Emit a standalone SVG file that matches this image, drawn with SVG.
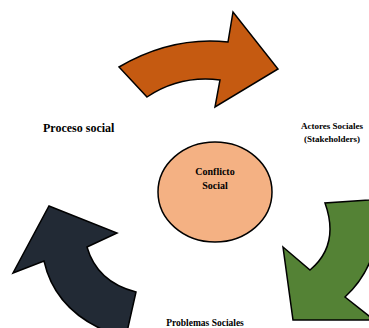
<svg xmlns="http://www.w3.org/2000/svg" width="369" height="328" viewBox="0 0 369 328">
<style>
.arr{stroke:#000;stroke-width:1.5;stroke-linejoin:miter}
.t{font-family:"Liberation Serif","Times New Roman",serif;font-weight:bold;fill:#000}
</style>
<rect width="369" height="328" fill="#fff"/>
<g id="connectors">
<path id="arrow-orange" class="arr" fill="#C55A11" d="M119,67 Q172,36 228,42 L233,12 L278,69 L215,107 L220,80 Q180,75 147,97 Z"/>
<path id="arrow-green" class="arr" fill="#548235" d="M369,200 L325,203 Q340,245 310,270 L283,247 L293,320 L374,320 L345,297 Q385,260 376,199 Z"/>
<path id="arrow-dark" class="arr" fill="#222A35" d="M49,206 L117,233 L87,247 Q97,282 136,292 L127,332 L108,332 Q55,310 44,261 L13,273 Z"/>
</g>
<g id="conflicto">
<ellipse cx="215" cy="192" rx="57" ry="50" fill="#F4B183" stroke="#000" stroke-width="1.5"/>
<text class="t" x="215" y="175" font-size="10" text-anchor="middle">Conflicto</text>
<text class="t" x="215" y="189" font-size="10" text-anchor="middle">Social</text>
</g>
<g id="proceso">
<text class="t" x="43" y="132" font-size="12">Proceso social</text>
</g>
<g id="actores">
<text class="t" x="332" y="129" font-size="9" text-anchor="middle">Actores Sociales</text>
<text class="t" x="332" y="142" font-size="9" text-anchor="middle">(Stakeholders)</text>
</g>
<g id="problemas">
<text class="t" x="205" y="326" font-size="9.5" text-anchor="middle">Problemas Sociales</text>
</g>
</svg>
